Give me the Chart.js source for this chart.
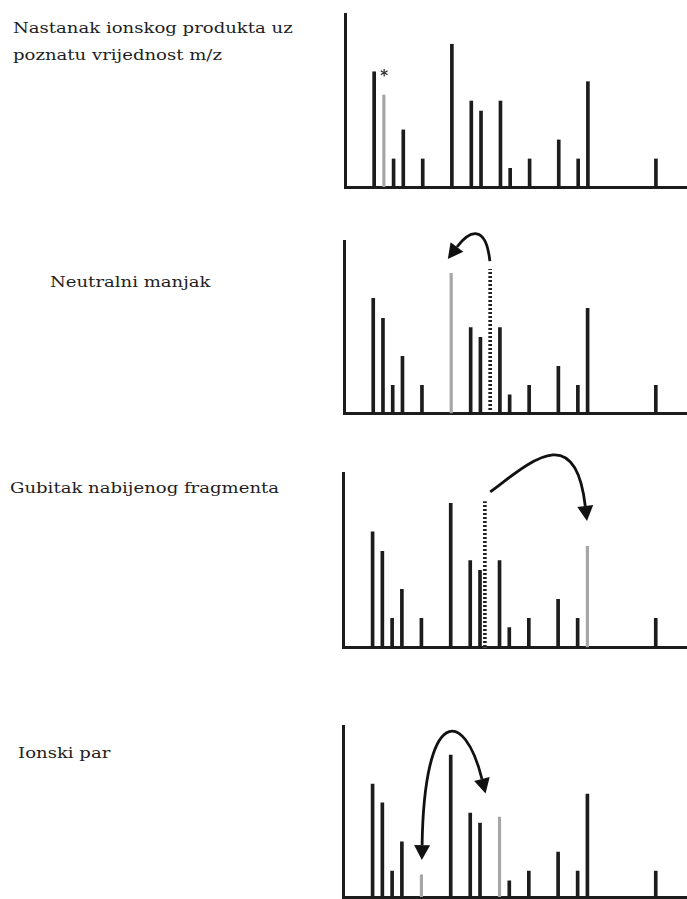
<!DOCTYPE html>
<html>
<head>
<meta charset="utf-8">
<script src="https://cdn.jsdelivr.net/npm/chart.js@4.4.1/dist/chart.umd.min.js"></script>
<style>
  body { margin: 0; background: #fff; width: 687px; height: 899px; overflow: hidden; position: relative; }
  .lbl { position: absolute; font-family: "DejaVu Serif", serif; font-size: 14px; line-height: 16px;
         color: #1e1e1e; white-space: nowrap; transform-origin: 0 50%; transform: scaleX(1.29); }
  .box { position: absolute; left: 330px; width: 357px; }
</style>
</head>
<body>
<div class="lbl" style="left:13px; top:20px;">Nastanak ionskog produkta uz</div>
<div class="lbl" style="left:13px; top:47px;">poznatu vrijednost m/z</div>
<div class="lbl" style="left:50px; top:274px;">Neutralni manjak</div>
<div class="lbl" style="left:10px; top:480px;">Gubitak nabijenog fragmenta</div>
<div class="lbl" style="left:18px; top:745px;">Ionski par</div>

<div class="box" style="top:0px; height:200px;"><canvas id="spec1" width="357" height="200"></canvas></div>
<div class="box" style="top:220px; height:205px;"><canvas id="spec2" width="357" height="205"></canvas></div>
<div class="box" style="top:445px; height:215px;"><canvas id="spec3" width="357" height="215"></canvas></div>
<div class="box" style="top:715px; height:184px;"><canvas id="spec4" width="357" height="184"></canvas></div>

<script>
// m/z positions of the peaks (arbitrary units), same in all four spectra
const mz = [3, 4, 5, 6, 8, 11, 13, 14, 16, 17, 19, 22, 24, 25, 32];

// relative intensities (axis top = 100)
const intensity1 = [66.6, 53.2, 16.2, 33.0, 16.2, 82.5, 49.7, 43.9, 49.7, 10.8, 16.2, 27.2, 16.2, 60.9, 16.2];
const intensity2 = [67.0, 55.3, 16.3, 33.2, 16.3, 81.5, 49.9, 44.3, 49.9, 10.7, 16.3, 27.4, 16.3, 61.2, 16.3];
const intensity3 = [66.4, 55.2, 16.7, 33.3, 16.7, 82.8, 49.8, 44.3, 49.8, 11.3, 16.7, 27.6, 16.7, 58.0, 16.7];
const intensity4 = [66.0, 55.0, 15.2, 32.2, 12.9, 83.0, 49.1, 43.3, 46.8, 9.4, 15.2, 26.3, 15.2, 60.2, 15.2];

// highlighted (grey) peaks per spectrum
const grey1 = [4];
const grey2 = [11];
const grey3 = [25];
const grey4 = [8, 16];

// precursor peak drawn dotted [m/z, intensity]
const dotted2 = [15, 83.9];
const dotted3 = [14.5, 83.7];

// arrows as cubic curves in data units: start, control 1, control 2, end
const arrow2 = [[14.97, 88.7], [14.56, 110.2], [12.92, 106.8], [11.59, 96.9]];
const arrow3 = [[15.05, 89.3], [19.15, 106.5], [23.76, 130.6], [24.78, 81.2]];
const arrow4 = [[8.07, 30.4], [8.3, 112.3], [12.4, 110.4], [14.2, 69.0]];
const star1 = [3.93, 65.7];

const ink = "#1c1c1c";

let tile = document.createElement("canvas");
tile.width = 3;
tile.height = 4;
let tctx = tile.getContext("2d");
tctx.fillStyle = "#ffffff";
tctx.fillRect(0, 0, 3, 4);
tctx.fillStyle = "#222222";
tctx.fillRect(0, 0, 3, 2);
const dots = tctx.createPattern(tile, "repeat");

function head(ctx, from, base, len, half) {
    let dx = base[0] - from[0], dy = base[1] - from[1];
    let d = Math.hypot(dx, dy);
    dx /= d; dy /= d;
    ctx.beginPath();
    ctx.moveTo(base[0] + dx * len, base[1] + dy * len);
    ctx.lineTo(base[0] - dy * half, base[1] + dx * half);
    ctx.lineTo(base[0] + dy * half, base[1] - dx * half);
    ctx.closePath();
    ctx.fill();
}

const arrowPlugin = {
    id: "arrows",
    afterDatasetsDraw(chart, args, opts) {
        const ctx = chart.ctx;
        const x = chart.scales.x, y = chart.scales.y;
        const px = p => [x.getPixelForValue(p[0]), y.getPixelForValue(p[1])];
        ctx.save();
        if (opts.curve) {
            const [p0, c1, c2, p3] = opts.curve.map(px);
            ctx.strokeStyle = "#111";
            ctx.fillStyle = "#111";
            ctx.lineWidth = 2.8;
            ctx.beginPath();
            ctx.moveTo(p0[0], p0[1]);
            ctx.bezierCurveTo(c1[0], c1[1], c2[0], c2[1], p3[0], p3[1]);
            ctx.stroke();
            head(ctx, c2, p3, 15, 8);
            if (opts.both) head(ctx, c1, p0, 15, 8);
        }
        if (opts.star) {
            const s = px(opts.star);
            ctx.fillStyle = "#333";
            ctx.font = "bold 15px 'DejaVu Sans'";
            ctx.textAlign = "center";
            ctx.textBaseline = "middle";
            ctx.fillText("*", s[0] + 1, s[1] + 4);
        }
        ctx.restore();
    }
};

function spectrum(values, greyMz, dotted) {
    let black = [], grey = [];
    mz.forEach((m, i) => (greyMz.includes(m) ? grey : black).push({x: m, y: values[i]}));
    let sets = [
        {data: black, backgroundColor: ink, barThickness: 3, grouped: false},
        {data: grey, backgroundColor: "#a6a6a6", barThickness: 2.5, grouped: false}
    ];
    if (dotted) {
        sets.push({data: [{x: dotted[0], y: dotted[1]}], backgroundColor: dots, barThickness: 3, grouped: false});
    }
    return sets;
}

function drawSpectrum(id, values, greyMz, dotted, padding, arrows) {
    new Chart(document.getElementById(id).getContext("2d"), {
        type: "bar",
        data: {datasets: spectrum(values, greyMz, dotted)},
        options: {
            responsive: false,
            animation: false,
            layout: {padding: padding},
            plugins: {
                legend: {display: false},
                tooltip: {enabled: false},
                arrows: arrows
            },
            scales: {
                x: {
                    type: "linear",
                    min: 0,
                    max: 35.2,
                    offset: false,
                    grid: {display: false, drawTicks: false},
                    ticks: {display: false},
                    border: {color: ink, width: 3}
                },
                y: {
                    min: 0,
                    max: 100,
                    grid: {display: false, drawTicks: false},
                    ticks: {display: false},
                    border: {color: ink, width: 3}
                }
            }
        },
        plugins: [arrowPlugin]
    });
}

drawSpectrum("spec1", intensity1, grey1, null, {left: 15, top: 14, bottom: 13, right: 0}, {star: star1});
drawSpectrum("spec2", intensity2, grey2, dotted2, {left: 14, top: 21.7, bottom: 11.7, right: 0}, {curve: arrow2});
drawSpectrum("spec3", intensity3, grey3, dotted3, {left: 13.3, top: 28.3, bottom: 12.7, right: 0}, {curve: arrow3});
drawSpectrum("spec4", intensity4, grey4, null, {left: 13.3, top: 11, bottom: 2, right: 0}, {curve: arrow4, both: true});
</script>
</body>
</html>
